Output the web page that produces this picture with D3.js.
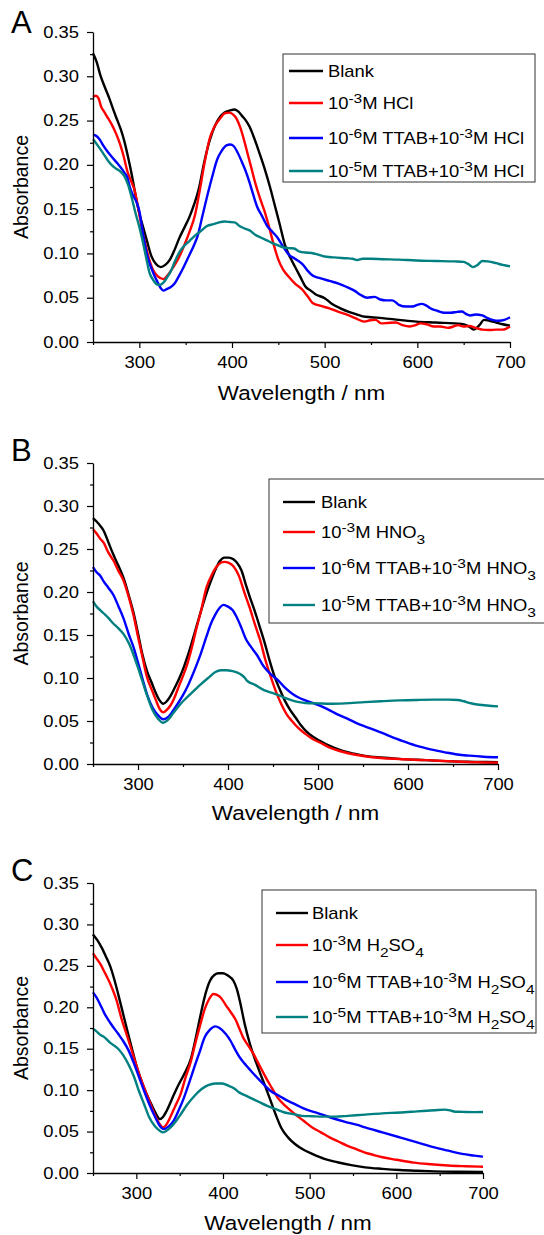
<!DOCTYPE html>
<html>
<head>
<meta charset="utf-8">
<script src="https://cdn.jsdelivr.net/npm/d3@7"></script>
<style>
  body { margin: 0; background: #fff; }
  svg { display: block; font-family: "Liberation Sans", Arial, sans-serif; }
</style>
</head>
<body>
<svg id="chart" width="544" height="1235"></svg>
<script>
// Axis ticks
const xTicks = [300, 400, 500, 600, 700];
const xMinorTicks = [250, 350, 450, 550, 650];
const yTicks = [0, 0.05, 0.10, 0.15, 0.20, 0.25, 0.30, 0.35];
const yMinorTicks = [0.025, 0.075, 0.125, 0.175, 0.225, 0.275, 0.325];

const seriesColors = ["#000000", "#ff0000", "#0000ff", "#008080"];
const panelLetters = ["A", "B", "C"];

// Legend labels (^{} superscript, _{} subscript)
const legendHCl = ["Blank", "10^{-3}M HCl", "10^{-6}M TTAB+10^{-3}M HCl", "10^{-5}M TTAB+10^{-3}M HCl"];
const legendHNO3 = ["Blank", "10^{-3}M HNO_{3}", "10^{-6}M TTAB+10^{-3}M HNO_{3}", "10^{-5}M TTAB+10^{-3}M HNO_{3}"];
const legendH2SO4 = ["Blank", "10^{-3}M H_{2}SO_{4}", "10^{-6}M TTAB+10^{-3}M H_{2}SO_{4}", "10^{-5}M TTAB+10^{-3}M H_{2}SO_{4}"];

// Panel A: HCl  [wavelength nm, absorbance]
const hclBlank = [[250,0.326],[254,0.316],[258,0.301],[263,0.287],[268,0.274],[272,0.262],[276,0.251],[280,0.240],[284,0.226],[288,0.208],[292,0.188],[296,0.165],[300,0.145],[304,0.130],[308,0.115],[313,0.097],[318,0.088],[323,0.0845],[328,0.087],[333,0.093],[338,0.104],[343,0.117],[349,0.130],[354,0.141],[359,0.155],[364,0.172],[370,0.203],[376,0.228],[382,0.245],[387,0.254],[392,0.259],[398,0.2615],[403,0.2625],[407,0.260],[411,0.255],[415,0.250],[419,0.243],[424,0.230],[430,0.212],[436,0.193],[441,0.175],[446,0.155],[451,0.135],[457,0.110],[463,0.095],[468,0.085],[474,0.073],[479,0.063],[485,0.058],[490,0.054],[500,0.0495],[508,0.043],[517,0.038],[526,0.034],[535,0.031],[541,0.029],[550,0.028],[562,0.027],[580,0.025],[599,0.023],[620,0.022],[648,0.0205],[655,0.018],[661,0.014],[667,0.019],[672,0.025],[678,0.024],[685,0.022],[692,0.020],[700,0.0185]];
const hclAcid = [[250,0.2765],[253,0.278],[256,0.275],[259,0.265],[262,0.260],[266,0.253],[270,0.246],[275,0.235],[279,0.224],[283,0.210],[287,0.193],[291,0.182],[295,0.171],[299,0.150],[303,0.127],[307,0.108],[311,0.092],[315,0.081],[320,0.074],[326,0.071],[331,0.076],[337,0.085],[343,0.096],[348,0.108],[354,0.124],[360,0.143],[365,0.170],[370,0.200],[376,0.230],[381,0.243],[387,0.252],[392,0.258],[397,0.259],[401,0.257],[405,0.252],[409,0.242],[413,0.228],[417,0.212],[421,0.196],[425,0.180],[430,0.163],[435,0.148],[440,0.130],[445,0.110],[450,0.093],[455,0.082],[461,0.074],[468,0.066],[476,0.059],[482,0.051],[487,0.044],[495,0.041],[505,0.038],[515,0.034],[524,0.031],[533,0.027],[543,0.023],[549,0.0245],[555,0.025],[561,0.021],[568,0.0215],[577,0.022],[584,0.019],[592,0.0175],[598,0.019],[603,0.021],[610,0.020],[618,0.0175],[625,0.0175],[633,0.016],[639,0.0175],[644,0.019],[650,0.0175],[656,0.018],[663,0.016],[670,0.014],[678,0.0135],[685,0.014],[692,0.014],[700,0.0175]];
const hclTtab6 = [[250,0.234],[253,0.233],[257,0.229],[261,0.222],[265,0.216],[268,0.212],[272,0.207],[276,0.202],[280,0.197],[284,0.191],[287,0.186],[290,0.174],[293,0.166],[297,0.158],[300,0.148],[304,0.122],[308,0.100],[311,0.089],[315,0.078],[319,0.069],[323,0.061],[326,0.058],[330,0.060],[334,0.062],[338,0.066],[343,0.075],[348,0.085],[353,0.096],[358,0.107],[363,0.120],[368,0.142],[374,0.168],[379,0.188],[384,0.206],[389,0.216],[394,0.222],[398,0.223],[402,0.221],[406,0.214],[410,0.205],[414,0.195],[419,0.180],[423,0.166],[427,0.153],[432,0.143],[438,0.131],[444,0.124],[449,0.118],[455,0.108],[461,0.099],[468,0.094],[476,0.088],[482,0.080],[487,0.075],[495,0.072],[505,0.069],[515,0.066],[524,0.062],[532,0.058],[539,0.053],[546,0.050],[554,0.051],[560,0.048],[566,0.047],[573,0.047],[580,0.042],[588,0.040],[595,0.040],[600,0.042],[605,0.043],[610,0.041],[614,0.038],[622,0.035],[629,0.033],[636,0.033],[643,0.034],[648,0.0345],[652,0.032],[657,0.030],[663,0.031],[670,0.030],[676,0.027],[681,0.025],[688,0.024],[694,0.025],[700,0.028]];
const hclTtab5 = [[250,0.229],[255,0.222],[261,0.213],[266,0.205],[272,0.198],[276,0.195],[280,0.192],[284,0.187],[288,0.177],[292,0.162],[296,0.145],[300,0.130],[304,0.112],[308,0.092],[311,0.078],[315,0.070],[319,0.065],[322,0.0645],[326,0.067],[330,0.073],[334,0.080],[338,0.090],[343,0.101],[348,0.108],[354,0.114],[360,0.120],[366,0.125],[373,0.131],[380,0.133],[386,0.135],[392,0.136],[398,0.1355],[403,0.135],[408,0.131],[414,0.128],[419,0.126],[425,0.121],[431,0.118],[437,0.115],[443,0.112],[449,0.1095],[455,0.107],[461,0.106],[467,0.1055],[473,0.102],[479,0.101],[486,0.1005],[492,0.099],[498,0.097],[510,0.0955],[524,0.0945],[530,0.094],[535,0.0925],[541,0.094],[550,0.094],[562,0.0935],[580,0.093],[599,0.092],[620,0.0915],[640,0.091],[650,0.0905],[655,0.088],[660,0.0845],[665,0.087],[670,0.0915],[676,0.091],[685,0.089],[692,0.087],[700,0.0855]];

// Panel B: HNO3
const hno3Blank = [[250,0.286],[254,0.282],[258,0.277],[262,0.271],[267,0.258],[272,0.245],[278,0.231],[284,0.216],[290,0.195],[295,0.176],[300,0.152],[305,0.127],[310,0.108],[315,0.095],[320,0.082],[324,0.074],[328,0.070],[332,0.073],[336,0.079],[340,0.087],[346,0.100],[351,0.113],[355,0.125],[360,0.142],[365,0.160],[370,0.178],[375,0.195],[380,0.210],[386,0.226],[391,0.236],[396,0.240],[401,0.240],[406,0.238],[410,0.234],[415,0.225],[420,0.208],[424,0.195],[430,0.177],[436,0.157],[441,0.140],[446,0.121],[451,0.104],[457,0.088],[463,0.074],[469,0.063],[475,0.054],[481,0.045],[487,0.038],[494,0.032],[502,0.027],[513,0.021],[525,0.016],[540,0.012],[552,0.0095],[570,0.0075],[590,0.006],[620,0.0045],[650,0.003],[675,0.0025],[700,0.002]];
const hno3Acid = [[250,0.273],[254,0.268],[258,0.262],[262,0.257],[267,0.246],[273,0.236],[278,0.225],[284,0.213],[290,0.193],[295,0.173],[300,0.148],[305,0.124],[310,0.101],[315,0.087],[320,0.074],[324,0.064],[328,0.060],[332,0.063],[336,0.068],[340,0.076],[346,0.092],[351,0.105],[355,0.117],[360,0.136],[365,0.158],[370,0.178],[376,0.205],[382,0.220],[387,0.229],[392,0.234],[396,0.235],[401,0.234],[406,0.230],[412,0.219],[418,0.200],[424,0.182],[430,0.162],[436,0.143],[441,0.123],[447,0.103],[453,0.085],[459,0.070],[465,0.058],[471,0.050],[478,0.042],[486,0.035],[494,0.029],[502,0.025],[513,0.019],[525,0.0148],[540,0.011],[552,0.009],[570,0.007],[590,0.0058],[620,0.0045],[650,0.003],[675,0.002],[700,0.0015]];
const hno3Ttab6 = [[250,0.229],[254,0.223],[258,0.219],[262,0.212],[267,0.205],[273,0.196],[278,0.184],[284,0.169],[290,0.150],[295,0.136],[300,0.118],[305,0.099],[310,0.081],[316,0.066],[322,0.057],[328,0.052],[334,0.055],[339,0.062],[344,0.070],[350,0.080],[355,0.090],[360,0.102],[365,0.115],[370,0.129],[376,0.148],[381,0.163],[386,0.174],[391,0.182],[395,0.185],[400,0.183],[405,0.179],[410,0.170],[415,0.158],[420,0.145],[425,0.137],[432,0.127],[440,0.113],[448,0.104],[456,0.097],[463,0.089],[471,0.082],[479,0.077],[486,0.074],[494,0.071],[502,0.068],[512,0.063],[521,0.058],[532,0.053],[544,0.047],[554,0.043],[564,0.039],[574,0.035],[583,0.031],[596,0.026],[610,0.021],[625,0.017],[641,0.0136],[655,0.011],[668,0.0097],[684,0.0085],[700,0.0078]];
const hno3Ttab5 = [[250,0.189],[254,0.183],[258,0.179],[262,0.175],[267,0.170],[272,0.164],[278,0.158],[284,0.151],[290,0.140],[295,0.127],[300,0.112],[305,0.096],[310,0.080],[316,0.063],[322,0.053],[328,0.048],[333,0.051],[339,0.059],[345,0.067],[350,0.073],[355,0.078],[362,0.085],[370,0.093],[378,0.100],[386,0.107],[392,0.109],[398,0.109],[405,0.108],[413,0.105],[418,0.101],[421,0.097],[430,0.092],[440,0.086],[448,0.083],[456,0.080],[463,0.077],[471,0.074],[479,0.072],[486,0.071],[500,0.0705],[513,0.070],[530,0.0705],[552,0.072],[570,0.073],[591,0.074],[610,0.0745],[630,0.0748],[645,0.0748],[655,0.0745],[662,0.073],[668,0.071],[675,0.0695],[688,0.068],[700,0.067]];

// Panel C: H2SO4
const h2so4Blank = [[250,0.288],[255,0.281],[260,0.272],[265,0.261],[270,0.249],[275,0.232],[280,0.212],[285,0.191],[290,0.170],[295,0.150],[300,0.130],[305,0.114],[310,0.100],[315,0.088],[320,0.077],[324,0.069],[327,0.065],[331,0.068],[335,0.075],[341,0.089],[347,0.103],[355,0.119],[363,0.138],[369,0.165],[375,0.195],[380,0.217],[385,0.232],[390,0.239],[395,0.241],[400,0.241],[406,0.238],[412,0.232],[416,0.222],[420,0.205],[425,0.180],[431,0.156],[437,0.137],[443,0.120],[449,0.104],[455,0.087],[461,0.070],[467,0.055],[475,0.043],[483,0.035],[493,0.028],[503,0.023],[517,0.017],[532,0.013],[548,0.0095],[564,0.0068],[584,0.005],[604,0.0036],[624,0.0027],[644,0.002],[672,0.0015],[700,0.0012]];
const h2so4Acid = [[250,0.265],[254,0.259],[258,0.253],[264,0.241],[270,0.228],[277,0.209],[283,0.186],[291,0.160],[297,0.140],[303,0.120],[309,0.103],[315,0.087],[321,0.071],[327,0.059],[331,0.055],[335,0.059],[339,0.067],[345,0.081],[351,0.095],[357,0.116],[363,0.135],[367,0.152],[373,0.176],[379,0.198],[384,0.210],[389,0.216],[393,0.215],[398,0.211],[403,0.203],[409,0.194],[415,0.184],[419,0.174],[423,0.164],[429,0.154],[435,0.144],[441,0.132],[447,0.120],[455,0.105],[463,0.091],[473,0.080],[483,0.071],[493,0.063],[503,0.055],[513,0.049],[523,0.043],[533,0.038],[543,0.033],[553,0.029],[563,0.025],[573,0.022],[584,0.019],[600,0.016],[620,0.0125],[640,0.0105],[660,0.009],[680,0.0082],[700,0.0076]];
const h2so4Ttab6 = [[250,0.218],[254,0.212],[258,0.204],[263,0.193],[270,0.181],[279,0.168],[285,0.159],[291,0.148],[297,0.133],[303,0.116],[309,0.099],[315,0.083],[321,0.069],[327,0.057],[331,0.053],[337,0.056],[343,0.063],[349,0.076],[355,0.091],[361,0.109],[367,0.128],[373,0.146],[379,0.164],[385,0.173],[391,0.177],[396,0.175],[403,0.168],[409,0.159],[414,0.149],[419,0.140],[425,0.132],[430,0.126],[435,0.120],[445,0.109],[455,0.099],[465,0.093],[475,0.087],[485,0.082],[495,0.077],[510,0.072],[524,0.067],[540,0.062],[555,0.058],[564,0.055],[584,0.049],[604,0.043],[624,0.037],[644,0.031],[660,0.027],[676,0.023],[690,0.021],[700,0.0197]];
const h2so4Ttab5 = [[250,0.174],[254,0.171],[258,0.167],[263,0.164],[270,0.157],[279,0.150],[285,0.142],[291,0.131],[297,0.117],[303,0.099],[309,0.083],[315,0.067],[321,0.057],[327,0.051],[331,0.049],[336,0.052],[343,0.059],[350,0.069],[359,0.083],[367,0.093],[375,0.101],[383,0.106],[391,0.108],[399,0.108],[407,0.105],[413,0.102],[419,0.097],[425,0.094],[431,0.091],[441,0.086],[451,0.081],[461,0.077],[471,0.073],[481,0.071],[491,0.069],[503,0.0685],[515,0.068],[530,0.068],[544,0.069],[564,0.0705],[584,0.072],[604,0.073],[624,0.0744],[644,0.0758],[656,0.0765],[662,0.0755],[668,0.074],[676,0.0738],[690,0.0735],[700,0.0736]];

const svg = d3.select("#chart");
const STRETCH = 1.15; // text in the reference is a bit wider than Arial

// Layout of each panel
const panels = [
    { series: [hclBlank, hclAcid, hclTtab6, hclTtab5], legend: legendHCl,
      left: 93, right: 510, top: 32, bottom: 342, letterY: 33,
      box: [283, 54, 252, 128], rows: [71, 103, 138, 171], lineX: [289, 323], textX: 328, titleY: 400 },
    { series: [hno3Blank, hno3Acid, hno3Ttab6, hno3Ttab5], legend: legendHNO3,
      left: 93, right: 498, top: 463, bottom: 764, letterY: 461,
      box: [269, 479, 285, 144], rows: [502, 532, 568, 605], lineX: [283, 315], textX: 321, titleY: 820 },
    { series: [h2so4Blank, h2so4Acid, h2so4Ttab6, h2so4Ttab5], legend: legendH2SO4,
      left: 93, right: 483, top: 883, bottom: 1173, letterY: 881,
      box: [262, 890, 274, 143], rows: [913, 945, 982, 1017], lineX: [276, 308], textX: 312, titleY: 1230 }
];

// write a label with ^{} and _{} parts as tspans
function richText(sel, label) {
    const parts = label.split(/(\^\{[^}]*\}|_\{[^}]*\})/).filter(p => p.length);
    let shift = 0;
    parts.forEach(p => {
        let target = 0, txt = p, small = false;
        if (p.startsWith("^{")) { target = -6; txt = p.slice(2, -1); small = true; }
        else if (p.startsWith("_{")) { target = 6; txt = p.slice(2, -1); small = true; }
        sel.append("tspan")
            .attr("dy", target - shift)
            .style("font-size", small ? "13.5px" : "16px")
            .text(txt);
        shift = target;
    });
}

panels.forEach((p, pi) => {
    const g = svg.append("g");

    const x = d3.scaleLinear().domain([250, 700]).range([p.left, p.right]);
    const y = d3.scaleLinear().domain([0, 0.35]).range([p.bottom, p.top]);

    // curves
    const line = d3.line()
        .x(d => x(d[0]))
        .y(d => y(d[1]))
        .curve(d3.curveMonotoneX);

    g.selectAll("path.curve")
        .data(p.series)
        .join("path")
        .attr("class", "curve")
        .attr("d", line)
        .attr("fill", "none")
        .attr("stroke", (d, i) => seriesColors[i])
        .attr("stroke-width", 2.4)
        .attr("stroke-linejoin", "round");

    // minor ticks
    g.append("g")
        .attr("transform", `translate(0,${p.bottom})`)
        .call(d3.axisBottom(x).tickValues(xMinorTicks).tickSize(3).tickFormat(""))
        .call(a => a.select(".domain").remove())
        .selectAll("line").attr("stroke-width", 1.2);
    g.append("g")
        .attr("transform", `translate(${p.left},0)`)
        .call(d3.axisLeft(y).tickValues(yMinorTicks).tickSize(3).tickFormat(""))
        .call(a => a.select(".domain").remove())
        .selectAll("line").attr("stroke-width", 1.2);

    // major axes
    const xAxis = g.append("g")
        .attr("transform", `translate(0,${p.bottom})`)
        .call(d3.axisBottom(x).tickValues(xTicks).tickSize(6).tickSizeOuter(0).tickPadding(9));
    const yAxis = g.append("g")
        .attr("transform", `translate(${p.left},0)`)
        .call(d3.axisLeft(y).tickValues(yTicks).tickSize(6).tickSizeOuter(0).tickFormat(d3.format(".2f")));

    [xAxis, yAxis].forEach(a => {
        a.select(".domain").attr("stroke-width", 1.3);
        a.selectAll(".tick line").attr("stroke-width", 1.2);
        a.selectAll("text").style("font-size", "16px").attr("fill", "#000")
            .style("font-family", "'Liberation Sans', Arial, sans-serif");
    });
    xAxis.selectAll("text").attr("transform", `scale(${STRETCH},1)`);
    yAxis.selectAll("text").attr("x", -14 / STRETCH).attr("transform", `scale(${STRETCH},1)`);

    // axis titles
    g.append("text")
        .attr("transform", `translate(${(p.left + p.right) / 2},${p.titleY}) scale(${STRETCH},1)`)
        .attr("text-anchor", "middle")
        .style("font-size", "19.5px")
        .text("Wavelength / nm");
    g.append("text")
        .attr("transform", `translate(28,${(p.top + p.bottom) / 2}) rotate(-90)`)
        .attr("text-anchor", "middle")
        .style("font-size", "19.5px")
        .text("Absorbance");

    // panel letter
    g.append("text")
        .attr("x", 11)
        .attr("y", p.letterY)
        .style("font-size", "31px")
        .text(panelLetters[pi]);

    // legend
    g.append("rect")
        .attr("x", p.box[0]).attr("y", p.box[1])
        .attr("width", p.box[2]).attr("height", p.box[3])
        .attr("fill", "#fff")
        .attr("stroke", "#333")
        .attr("stroke-width", 1);

    p.legend.forEach((label, i) => {
        g.append("line")
            .attr("x1", p.lineX[0]).attr("x2", p.lineX[1])
            .attr("y1", p.rows[i]).attr("y2", p.rows[i])
            .attr("stroke", seriesColors[i])
            .attr("stroke-width", 2.4);
        const t = g.append("text")
            .attr("transform", `translate(${p.textX},${p.rows[i] + 5.5}) scale(${STRETCH},1)`)
            .style("font-size", "16px");
        richText(t, label);
    });
});
</script>
</body>
</html>
